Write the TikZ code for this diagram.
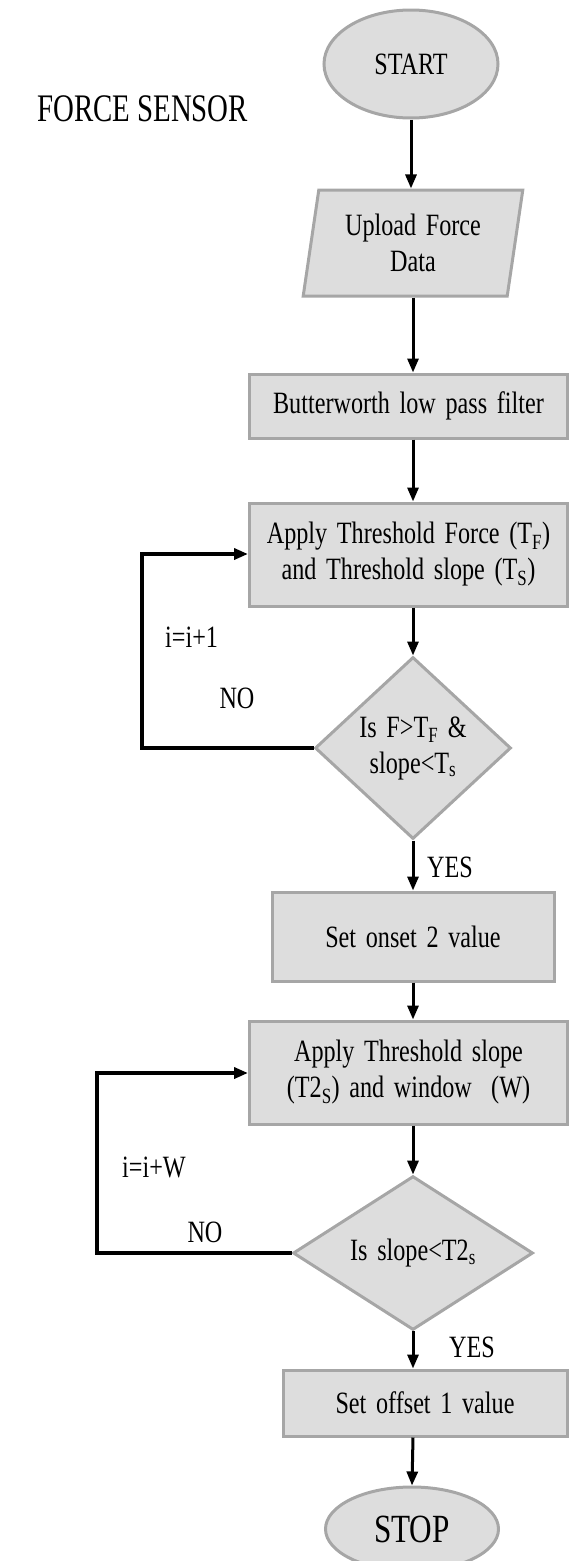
\documentclass[tikz,border=0pt]{standalone}
\usepackage{fontspec}
\setmainfont{Liberation Serif}[FakeStretch=0.78,WordSpace=1.6]
\newfontfamily\titlefont{Liberation Serif}[FakeStretch=0.74]
\usetikzlibrary{shapes.geometric,arrows.meta}
\definecolor{boxfill}{RGB}{221,221,221}
\definecolor{boxline}{RGB}{166,166,166}
\tikzset{
  base/.style={draw=boxline,fill=boxfill,line width=3pt,inner sep=0pt,align=center,font=\fontsize{31}{36}\selectfont},
  terminal/.style={base,ellipse},
  procbox/.style={base,rectangle},
  iobox/.style={base,trapezium,trapezium left angle=79,trapezium right angle=101,trapezium stretches=true},
  decision/.style={base,diamond},
  arr/.style={line width=3pt,-{Triangle[length=14pt,width=11pt]}},
  loopline/.style={line width=3.5pt,-{Triangle[length=14pt,width=11pt]}},
  lbl/.style={inner sep=0pt,font=\fontsize{31}{36}\selectfont}
}
\begin{document}
\begin{tikzpicture}[x=1pt,y=-1pt]
\useasboundingbox (0,0) rectangle (570,1561);
\node[lbl,anchor=base west,font=\titlefont\fontsize{39}{45}\selectfont] (title) at (37,121) {FORCE SENSOR};
\node[terminal,minimum width=174,minimum height=108] (start) at (411,64) {START};
\node[iobox,minimum width=220,minimum height=106] (upload) at (413,243) {Upload Force\\Data};
\node[procbox,minimum width=318,minimum height=64] (butter) at (408.5,406) {Butterworth low pass filter};
\node[procbox,minimum width=318,minimum height=103] (thr1) at (408.5,554.5) {Apply Threshold Force (T\textsubscript{F})\\and Threshold slope (T\textsubscript{S})};
\node[decision,minimum width=196,minimum height=182] (d1) at (413,748) {Is F>T\textsubscript{F} \&\\slope<T\textsubscript{s}};
\node[procbox,minimum width=282,minimum height=89] (onset) at (413,936.5) {Set onset 2 value};
\node[procbox,minimum width=318,minimum height=103] (thr2) at (408.5,1072.5) {Apply Threshold slope\\(T2\textsubscript{S}) and window\ \ (W)};
\node[decision,minimum width=240,minimum height=130] (d2) at (413,1253) {Is slope<T2\textsubscript{s}};
\node[procbox,minimum width=284,minimum height=66] (offset) at (425,1403) {Set offset 1 value};
\node[terminal,minimum width=173,minimum height=84,font=\fontsize{40}{46}\selectfont] (stop) at (412,1529) {STOP};
% connectors
\draw[arr] (start.south) -- (start.south |- upload.north);
\draw[arr] (upload.south) -- (upload.south |- butter.north);
\draw[arr] (upload.south |- butter.south) -- (upload.south |- thr1.north);
\draw[arr] (d1.north |- thr1.south) -- (d1.north);
\draw[arr] (d1.south) -- (d1.south |- onset.north);
\draw[arr] (onset.south) -- (onset.south |- thr2.north);
\draw[arr] (d2.north |- thr2.south) -- (d2.north);
\draw[arr] (d2.south) -- (d2.south |- offset.north);
\draw[arr] (d2.south |- offset.south) -- (stop.north);
% loops
\coordinate (l1a) at (142,748);
\coordinate (l1b) at (142,554);
\draw[loopline] (d1.west) -- (l1a) -- (l1b) -- (l1b -| thr1.west);
\coordinate (l2a) at (97,1253);
\coordinate (l2b) at (97,1073);
\draw[loopline] (d2.west) -- (l2a) -- (l2b) -- (l2b -| thr2.west);
% labels
\node[lbl,anchor=west] (inc1) at (165,637) {i=i+1};
\node[lbl] (no1) at (237,698) {NO};
\node[lbl,anchor=west] (inc2) at (122,1167) {i=i+W};
\node[lbl] (no2) at (205,1232) {NO};
\node[lbl] (yes1) at (450,867) {YES};
\node[lbl] (yes2) at (472,1347) {YES};
\end{tikzpicture}
\end{document}
